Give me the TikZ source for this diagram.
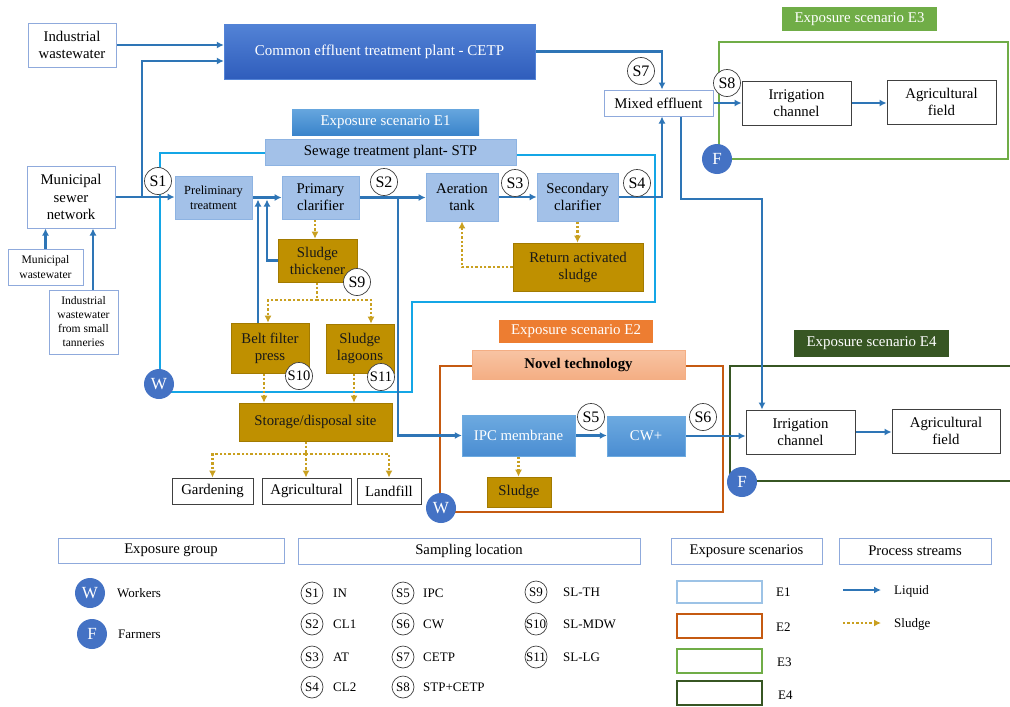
\documentclass[tikz,border=0pt]{standalone}
\usepackage{fontspec}
\setmainfont{Liberation Serif}
\usetikzlibrary{arrows.meta,backgrounds}
\newcommand\fsz[2]{\fontsize{#1}{#2}\selectfont}
\definecolor{liquid}{HTML}{2E75B6}
\definecolor{eone}{HTML}{14A6E6}
\definecolor{etwo}{HTML}{C55A11}
\definecolor{ethree}{HTML}{70AD47}
\definecolor{efour}{HTML}{375623}
\definecolor{sludge}{HTML}{BF9000}
\definecolor{sludgeline}{HTML}{C9A020}
\definecolor{boxblue}{HTML}{8FAADC}
\definecolor{procblue}{HTML}{A3C1E8}
\definecolor{procborder}{HTML}{8DB3E2}
\definecolor{wfill}{HTML}{4472C4}
\definecolor{orangeE}{HTML}{ED7D31}
\definecolor{salmonT}{HTML}{F8C4A3}
\definecolor{salmonB}{HTML}{F4AE84}
\definecolor{legEone}{HTML}{9DC3E6}
\definecolor{cetpT}{HTML}{5383D6}
\definecolor{cetpB}{HTML}{2F5DBC}
\definecolor{eoneT}{HTML}{66A6DE}
\definecolor{eoneB}{HTML}{3A84CB}
\definecolor{memT}{HTML}{6DAAE0}
\definecolor{memB}{HTML}{4A8DD2}
\tikzset{
  base/.style={inner sep=1pt, align=center, font=\fsz{14.8}{17}},
  wbox/.style={base, draw=boxblue, line width=1pt, fill=white},
  kbox/.style={base, draw=black!75, line width=0.9pt, fill=white},
  pbox/.style={base, draw=procborder, line width=0.8pt, fill=procblue},
  sbox/.style={base, draw=sludge!85!black, line width=0.6pt, fill=sludge, text=black!90},
  cetpbox/.style={base, top color=cetpT, bottom color=cetpB, draw=cetpT, text=white, font=\fsz{15}{17}},
  eonelab/.style={base, top color=eoneT, bottom color=eoneB, text=white, font=\fsz{14.9}{17}},
  mbox/.style={base, top color=memT, bottom color=memB, draw=memT, text=white},
  novbox/.style={base, top color=salmonT, bottom color=salmonB, draw=salmonB, font=\fsz{14.8}{17}\bfseries},
  elab/.style={base, text=white, font=\fsz{14.9}{17}},
  scirc/.style={circle, draw=black!75, fill=white, line width=0.7pt, minimum size=27pt, inner sep=0pt, font=\fsz{16}{18}},
  lcirc/.style={circle, draw=black!75, fill=white, line width=0.7pt, minimum size=22pt, inner sep=0pt, font=\fsz{13}{15}},
  gcirc/.style={circle, fill=wfill, minimum size=30pt, inner sep=0pt, text=white, font=\fsz{17}{19}},
  ltext/.style={anchor=west, inner sep=0pt, font=\fsz{13}{15}},
  hbox/.style={base, draw=boxblue, line width=1pt, fill=white, font=\fsz{14.7}{17}},
  liq/.style={draw=liquid, line width=2.2pt, -{Latex[length=7pt,width=7pt]}},
  slu/.style={draw=sludgeline, line width=2.5pt, dash pattern=on 2.4pt off 2pt, -{Latex[length=7pt,width=7pt]}},
  framebase/.style={line width=2.3pt}
}
\begin{document}
\begin{tikzpicture}[x=1pt,y=-1pt]
\useasboundingbox (0,0) rectangle (1010,707);

% ---------- nodes ----------
\node[wbox,minimum width=88pt,minimum height=44pt] (iw) at (72,45) {Industrial\\wastewater};
\node[cetpbox,minimum width=311pt,minimum height=55pt] (cetp) at (379.5,51.5) {Common effluent treatment plant - CETP};
\node[wbox,font=\fsz{14.8}{17.5},minimum width=88pt,minimum height=62pt] (msn) at (71,197) {Municipal\\sewer\\network};
\node[wbox,font=\fsz{11.6}{14.5},minimum width=75pt,minimum height=36pt] (mw) at (45.5,267) {Municipal\\wastewater};
\node[wbox,font=\fsz{11.6}{14},minimum width=69pt,minimum height=64pt] (tan) at (83.5,322) {Industrial\\wastewater\\from small\\tanneries};
\node[pbox,font=\fsz{12.4}{15},minimum width=77pt,minimum height=43pt] (pre) at (213.5,197.5) {Preliminary\\treatment};
\node[pbox,minimum width=77pt,minimum height=43pt] (pc) at (320.5,197.5) {Primary\\clarifier};
\node[pbox,minimum width=72pt,minimum height=48pt] (at) at (462,197) {Aeration\\tank};
\node[pbox,minimum width=81pt,minimum height=48pt] (sc) at (577.5,197) {Secondary\\clarifier};
\node[eonelab,minimum width=187pt,minimum height=26pt] (e1lab) at (385.5,122) {Exposure scenario E1};
\node[pbox,minimum width=251pt,minimum height=26pt] (stp) at (390.5,152) {Sewage treatment plant- STP};
\node[wbox,minimum width=109pt,minimum height=26pt] (me) at (658.5,103) {Mixed effluent};
\node[kbox,minimum width=109pt,minimum height=44pt] (ic3) at (796.5,103) {Irrigation\\channel};
\node[kbox,minimum width=109pt,minimum height=44pt] (af3) at (941.5,102) {Agricultural\\field};
\node[elab,fill=ethree,minimum width=155pt,minimum height=24pt] (e3lab) at (859.5,19) {Exposure scenario E3};
\node[sbox,minimum width=79pt,minimum height=43pt] (th) at (317.5,260.5) {Sludge\\thickener};
\node[sbox,minimum width=78pt,minimum height=50pt] (bfp) at (270,348) {Belt filter\\press};
\node[sbox,minimum width=68pt,minimum height=49pt] (lag) at (360,348.5) {Sludge\\lagoons};
\node[sbox,minimum width=153pt,minimum height=38pt] (sto) at (315.5,422) {Storage/disposal site};
\node[kbox,minimum width=81pt,minimum height=26pt] (gar) at (212.5,491) {Gardening};
\node[kbox,minimum width=89pt,minimum height=26pt] (agr) at (306.5,491) {Agricultural};
\node[kbox,minimum width=64pt,minimum height=26pt] (lf) at (389,491) {Landfill};
\node[sbox,minimum width=130pt,minimum height=48pt] (ras) at (578,267) {Return activated\\sludge};
\node[elab,fill=orangeE,minimum width=154pt,minimum height=23pt] (e2lab) at (576,331.5) {Exposure scenario E2};
\node[novbox,minimum width=213pt,minimum height=29pt] (nov) at (578.5,364.5) {Novel technology};
\node[mbox,minimum width=113pt,minimum height=41pt] (ipc) at (518.5,435.5) {IPC membrane};
\node[mbox,minimum width=78pt,minimum height=40pt] (cw) at (646,436) {CW+};
\node[sbox,minimum width=64pt,minimum height=30pt] (sl2) at (519,492) {Sludge};
\node[elab,fill=efour,minimum width=155pt,minimum height=27pt] (e4lab) at (871.5,343.5) {Exposure scenario E4};
\node[kbox,minimum width=109pt,minimum height=44pt] (ic4) at (800.5,432) {Irrigation\\channel};
\node[kbox,minimum width=108pt,minimum height=44pt] (af4) at (946,431) {Agricultural\\field};

% sampling points
\node[scirc] (s1) at (158,181) {S1};
\node[scirc] (s2) at (384,182) {S2};
\node[scirc] (s3) at (515,183) {S3};
\node[scirc] (s4) at (637,183) {S4};
\node[scirc] (s5) at (591,417) {S5};
\node[scirc] (s6) at (703,417) {S6};
\node[scirc] (s7) at (641,71) {S7};
\node[scirc] (s8) at (727,83) {S8};
\node[scirc] (s9) at (357,282) {S9};
\node[scirc,font=\fsz{14.5}{16}] (s10) at (299,376) {S10};
\node[scirc,font=\fsz{14.5}{16}] (s11) at (381,377) {S11};
% exposure groups
\node[gcirc] (w1) at (159,384) {W};
\node[gcirc] (w2) at (441,508) {W};
\node[gcirc] (f3) at (717,159) {F};
\node[gcirc] (f4) at (742,482) {F};

% ---------- frames and connectors ----------
\begin{scope}[on background layer]
\fill[white] (0,0) rectangle (1010,707);
\draw[framebase,draw=eone] (265,153) -- (160,153) -- (160,392) -- (412,392) -- (412,302) -- (655,302) -- (655,155) -- (516,155);
\draw[framebase,draw=etwo] (440,366) rectangle (723,512);
\draw[framebase,draw=ethree] (719,42) rectangle (1008,159);
\draw[framebase,draw=efour] (1014,366) -- (730,366) -- (730,481) -- (1014,481);

\coordinate (j1) at (142,197);
\coordinate (j1t) at (142,61);
\draw[liq] (iw.east) -- (iw.east -| cetp.west);
\draw[liq] (msn.east) -- (pre.west |- msn.east);
\draw[liq] (j1) |- (cetp.west |- j1t);
\draw[liq] (mw.north) -- (mw.north |- msn.south);
\coordinate (tanx) at (93,0);
\draw[liq] (tan.north -| tanx) -- (msn.south -| tanx);
\draw[liq] (pre.east) -- (pc.west);
\coordinate (bfpup) at (258,199.5);
\draw[liq] (bfp.north -| bfpup) -- (bfpup);
\coordinate (thup) at (267,199.5);
\draw[liq] (th.west) -| (thup);
\draw[liq] (pc.east) -- (at.west |- pc.east);
\coordinate (j2) at (398,197.5);
\draw[liq] (j2) |- (ipc.west);
\draw[liq] (at.east) -- (sc.west);
\coordinate (mein) at (662,0);
\draw[liq] (sc.east) -| (me.south -| mein);
\draw[liq] (cetp.east) -| (me.north -| mein);
\draw[liq] (me.east) -- (ic3.west |- me.east);
\draw[liq] (ic3.east) -- (af3.west |- ic3.east);
\coordinate (meout) at (681,199);
\coordinate (icin) at (762,199);
\draw[liq] (me.south -| meout) -- (meout) -- (icin) -- (ic4.north -| icin);
\draw[liq] (ipc.east) -- (cw.west |- ipc.east);
\draw[liq] (cw.east) -- (ic4.west |- cw.east);
\draw[liq] (ic4.east) -- (af4.west |- ic4.east);

\coordinate (pcs) at (315,0);
\draw[slu] (pc.south -| pcs) -- (th.north -| pcs);
\coordinate (thb) at (317,300);
\coordinate (bl) at (268,0);
\coordinate (br) at (371,0);
\draw[slu] (th.south -| thb) -- (thb) -| (bfp.north -| bl);
\draw[slu] (thb) -| (lag.north -| br);
\coordinate (bfx) at (264,0);
\draw[slu] (bfp.south -| bfx) -- (sto.north -| bfx);
\coordinate (lgx) at (354,0);
\draw[slu] (lag.south -| lgx) -- (sto.north -| lgx);
\coordinate (stb) at (306,454);
\draw[slu] (sto.south -| stb) -- (stb) -| (gar.north);
\draw[slu] (stb) -- (agr.north -| stb);
\draw[slu] (stb) -| (lf.north);
\draw[slu] (sc.south) -- (ras.north -| sc.south);
\draw[slu] (ras.west) -| (at.south);
\draw[slu] (ipc.south) -- (sl2.north -| ipc.south);
\end{scope}

% ---------- legend ----------
\node[hbox,minimum width=226pt,minimum height=25pt] (lg1) at (171,550.5) {Exposure group};
\node[hbox,minimum width=342pt,minimum height=26pt] (lg2) at (469,551) {Sampling location};
\node[hbox,minimum width=151pt,minimum height=26pt] (lg3) at (746.5,551) {Exposure scenarios};
\node[hbox,minimum width=152pt,minimum height=26pt] (lg4) at (915,551) {Process streams};

\node[gcirc] (lw) at (90,593) {W};
\node[ltext] (lwt) at (117,593) {Workers};
\node[gcirc] (lfm) at (92,634) {F};
\node[ltext] (lft) at (118,634) {Farmers};

\foreach \s/\x/\lx/\y/\t in {1/312/333/593/IN, 2/312/333/624/CL1, 3/312/333/657/AT, 4/312/333/687/CL2,
  5/403/423/593/IPC, 6/403/423/624/CW, 7/403/423/657/CETP, 8/403/423/687/STP+CETP,
  9/536/563/592/SL-TH, 10/536/563/624/SL-MDW, 11/536/563/657/SL-LG}{
  \node[lcirc] (ls\s) at (\x,\y) {S\s};
  \node[ltext] (lt\s) at (\lx,\y) {\t};
}

\node[draw=legEone,line width=2.2pt,minimum width=85pt,minimum height=22pt,inner sep=0pt] (le1) at (719.5,592) {};
\node[draw=etwo,line width=2.2pt,minimum width=85pt,minimum height=24pt,inner sep=0pt] (le2) at (719.5,626) {};
\node[draw=ethree,line width=2.2pt,minimum width=85pt,minimum height=24pt,inner sep=0pt] (le3) at (719.5,661) {};
\node[draw=efour,line width=2.2pt,minimum width=85pt,minimum height=24pt,inner sep=0pt] (le4) at (719.5,693) {};
\node[ltext] (le1t) at (776,592) {E1};
\node[ltext] (le2t) at (776,627) {E2};
\node[ltext] (le3t) at (777,662) {E3};
\node[ltext] (le4t) at (778,695) {E4};

\coordinate (lq1) at (843,590);
\coordinate (lq2) at (881,590);
\draw[liq,line width=1.8pt] (lq1) -- (lq2);
\node[ltext] (lqt) at (894,591) {Liquid};
\coordinate (ls1a) at (843,623);
\coordinate (ls2a) at (881,623);
\draw[slu,line width=2pt] (ls1a) -- (ls2a);
\node[ltext] (lst) at (894,624) {Sludge};
\end{tikzpicture}
\end{document}
